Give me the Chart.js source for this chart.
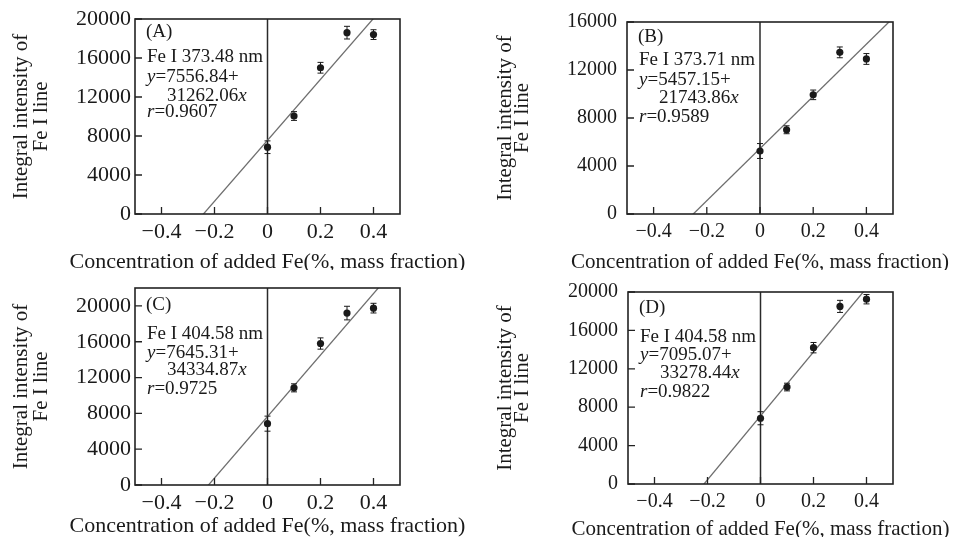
<!DOCTYPE html>
<html>
<head>
<meta charset="utf-8">
<script src="https://cdn.jsdelivr.net/npm/chart.js@4.4.1/dist/chart.umd.min.js"></script>
<style>
  html, body { margin: 0; padding: 0; background: #fff; }
  body { width: 953px; height: 537px; position: relative; overflow: hidden; }
  canvas { position: absolute; }
</style>
</head>
<body>
<canvas id="chart-a" width="476" height="270" style="left:0;top:0"></canvas>
<canvas id="chart-b" width="477" height="270" style="left:476px;top:0"></canvas>
<canvas id="chart-c" width="476" height="267" style="left:0;top:270px"></canvas>
<canvas id="chart-d" width="477" height="267" style="left:476px;top:270px"></canvas>
<script>
// Standard addition data, Fe I lines, four panels

const concentrations = [0, 0.1, 0.2, 0.3, 0.4];

const intensityA = [6850, 10050, 15000, 18600, 18400];
const errorA = [650, 450, 550, 650, 500];
const intensityB = [5250, 7020, 9930, 13470, 12920];
const errorB = [620, 330, 400, 450, 450];
const intensityC = [6850, 10850, 15800, 19200, 19750];
const errorC = [840, 450, 630, 760, 540];
const intensityD = [6850, 10100, 14200, 18500, 19250];
const errorD = [680, 400, 540, 630, 490];

// fit lines y = a + b x, as printed in each panel
const fitIntercepts = [7556.84, 5457.15, 7645.31, 7095.07];
const fitSlopes = [31262.06, 21743.86, 34334.87, 33278.44];
const rValues = ['0.9607', '0.9589', '0.9725', '0.9822'];
const panelLabels = ['(A)', '(B)', '(C)', '(D)'];
const lineNames = ['Fe I 373.48 nm', 'Fe I 373.71 nm', 'Fe I 404.58 nm', 'Fe I 404.58 nm'];

const xTicks = [-0.4, -0.2, 0, 0.2, 0.4];
const yTicks20k = [0, 4000, 8000, 12000, 16000, 20000];
const yTicks16k = [0, 4000, 8000, 12000, 16000];

const xRange = [-0.5, 0.5];
const yMaxes = [20000, 16000, 22000, 20000];

const xTitle = 'Concentration of added Fe(%, mass fraction)';
const yTitle = ['Integral intensity of', 'Fe I line'];

const serif = '"Liberation Serif", "Times New Roman", serif';
const ink = '#1a1a1a';

function fmtTick(v) {
    if (v < 0) return '\u2212' + Math.abs(v);
    return String(v);
}

// inward ticks, box, zero line, error bars, x title and the text block
const framePlugin = {
    id: 'frame',
    beforeDatasetsDraw(chart) {
        const { ctx, chartArea, scales } = chart;
        const x0 = scales.x.getPixelForValue(0);
        ctx.save();
        ctx.strokeStyle = '#2a2a2a';
        ctx.lineWidth = 1.5;
        ctx.beginPath();
        ctx.moveTo(x0, chartArea.top);
        ctx.lineTo(x0, chartArea.bottom);
        ctx.stroke();
        ctx.restore();
    },
    afterDatasetsDraw(chart) {
        const { ctx, scales } = chart;
        const p = chart.options.plugins.frame;
        const meta = chart.getDatasetMeta(0);
        ctx.save();
        ctx.strokeStyle = ink;
        ctx.lineWidth = 1;
        meta.data.forEach(function(pt, i) {
            const v = p.values[i];
            const e = p.errors[i];
            const yt = scales.y.getPixelForValue(v + e);
            const yb = scales.y.getPixelForValue(v - e);
            ctx.beginPath();
            ctx.moveTo(pt.x, yt); ctx.lineTo(pt.x, yb);
            ctx.moveTo(pt.x - 3, yt); ctx.lineTo(pt.x + 3, yt);
            ctx.moveTo(pt.x - 3, yb); ctx.lineTo(pt.x + 3, yb);
            ctx.stroke();
        });
        ctx.restore();
    },
    afterDraw(chart) {
        const { ctx, chartArea: a, scales } = chart;
        const p = chart.options.plugins.frame;
        ctx.save();
        ctx.strokeStyle = '#222';
        ctx.lineWidth = 1.6;
        ctx.strokeRect(a.left, a.top, a.right - a.left, a.bottom - a.top);

        ctx.lineWidth = 1.3;
        ctx.beginPath();
        scales.x.ticks.forEach(function(t) {
            const x = scales.x.getPixelForValue(t.value);
            ctx.moveTo(x, a.bottom); ctx.lineTo(x, a.bottom - 7);
        });
        scales.y.ticks.forEach(function(t) {
            const y = scales.y.getPixelForValue(t.value);
            ctx.moveTo(a.left, y); ctx.lineTo(a.left + 7, y);
        });
        ctx.stroke();

        ctx.fillStyle = ink;

        // x axis title, wider than the plot so drawn here
        ctx.textAlign = 'center';
        ctx.textBaseline = 'alphabetic';
        ctx.font = p.titleSize + 'px ' + serif;
        ctx.fillText(xTitle, (a.left + a.right) / 2, p.titleBase);

        // text block
        ctx.textBaseline = 'middle';
        ctx.textAlign = 'left';
        const up = '19px ' + serif;
        const it = 'italic 19px ' + serif;
        const ty = p.textY.map(function(d) { return a.top + d; });
        const lx = a.left + 12;
        ctx.font = up;
        ctx.fillText(p.label, a.left + 11, ty[0]);
        ctx.fillText(p.lineName, lx, ty[1]);
        ctx.font = it;
        ctx.fillText('y', lx, ty[2]);
        let w = ctx.measureText('y').width;
        ctx.font = up;
        ctx.fillText('=' + p.intercept.toFixed(2) + '+', lx + w, ty[2]);
        const slopeText = p.slope.toFixed(2);
        ctx.fillText(slopeText, a.left + 32, ty[3]);
        w = ctx.measureText(slopeText).width;
        ctx.font = it;
        ctx.fillText('x', a.left + 32 + w, ty[3]);
        ctx.fillText('r', lx, ty[4]);
        w = ctx.measureText('r').width;
        ctx.font = up;
        ctx.fillText('=' + p.r, lx + w, ty[4]);
        ctx.restore();
    }
};

function makePanel(canvasId, k, values, errors, yTicks, look) {
    const canvas = document.getElementById(canvasId);
    const W = canvas.width, H = canvas.height;
    const area = look.area;
    const a = fitIntercepts[k], b = fitSlopes[k];

    new Chart(canvas.getContext('2d'), {
        type: 'scatter',
        data: {
            datasets: [{
                data: concentrations.map(function(x, i) { return { x: x, y: values[i] }; }),
                backgroundColor: ink,
                borderWidth: 0,
                pointRadius: 3.6,
                pointHoverRadius: 3.6
            }, {
                data: [{ x: xRange[0], y: a + b * xRange[0] }, { x: xRange[1], y: a + b * xRange[1] }],
                showLine: true,
                borderColor: '#6e6e6e',
                borderWidth: 1.3,
                pointRadius: 0
            }]
        },
        options: {
            responsive: false,
            animation: false,
            layout: {
                padding: { left: 0, top: area.top, right: W - area.right, bottom: 0 }
            },
            plugins: {
                legend: { display: false },
                tooltip: { enabled: false },
                frame: {
                    values: values,
                    errors: errors,
                    label: panelLabels[k],
                    lineName: lineNames[k],
                    intercept: a,
                    slope: b,
                    r: rValues[k],
                    textY: look.textY,
                    titleBase: look.titleBase,
                    titleSize: look.titleSize
                }
            },
            scales: {
                x: {
                    type: 'linear',
                    min: xRange[0],
                    max: xRange[1],
                    afterBuildTicks: function(s) { s.ticks = xTicks.map(function(v) { return { value: v }; }); },
                    afterFit: function(s) { s.height = H - area.bottom; },
                    grid: { display: false, drawTicks: false },
                    border: { display: false },
                    ticks: {
                        color: ink,
                        padding: look.xPad,
                        font: { family: serif, size: look.tickSize },
                        callback: fmtTick
                    }
                },
                y: {
                    type: 'linear',
                    min: 0,
                    max: yMaxes[k],
                    afterBuildTicks: function(s) { s.ticks = yTicks.map(function(v) { return { value: v }; }); },
                    afterFit: function(s) { s.width = area.left; },
                    grid: { display: false, drawTicks: false },
                    border: { display: false },
                    ticks: {
                        color: ink,
                        padding: look.yPad,
                        font: { family: serif, size: look.tickSize },
                        callback: fmtTick
                    },
                    title: {
                        display: true,
                        text: yTitle,
                        color: ink,
                        padding: { top: look.titlePad, bottom: 0 },
                        font: { family: serif, size: 21, lineHeight: look.titleLH }
                    }
                }
            }
        },
        plugins: [framePlugin]
    });
}

makePanel('chart-a', 0, intensityA, errorA, yTicks20k, {
    area: { left: 135, top: 19, right: 400, bottom: 214 },
    tickSize: 22, xPad: 5, yPad: 4, titlePad: 11.5, titleLH: 0.95,
    textY: [13, 38, 58, 77, 93], titleBase: 268, titleSize: 22
});
makePanel('chart-b', 1, intensityB, errorB, yTicks16k, {
    area: { left: 151, top: 18, right: 417, bottom: 214 },
    tickSize: 20, xPad: 6, yPad: 10, titlePad: 21, titleLH: 0.82,
    textY: [15, 38, 58, 76, 95], titleBase: 268, titleSize: 21
});
makePanel('chart-c', 2, intensityC, errorC, yTicks20k, {
    area: { left: 135, top: 18, right: 400, bottom: 215 },
    tickSize: 22, xPad: 5, yPad: 4, titlePad: 11.5, titleLH: 0.95,
    textY: [17, 46, 65, 82, 101], titleBase: 262, titleSize: 22
});
makePanel('chart-d', 3, intensityD, errorD, yTicks20k, {
    area: { left: 152, top: 18, right: 417, bottom: 214 },
    tickSize: 20, xPad: 6, yPad: 10, titlePad: 21, titleLH: 0.82,
    textY: [16, 45, 63, 81, 100], titleBase: 265, titleSize: 21
});
</script>
</body>
</html>
